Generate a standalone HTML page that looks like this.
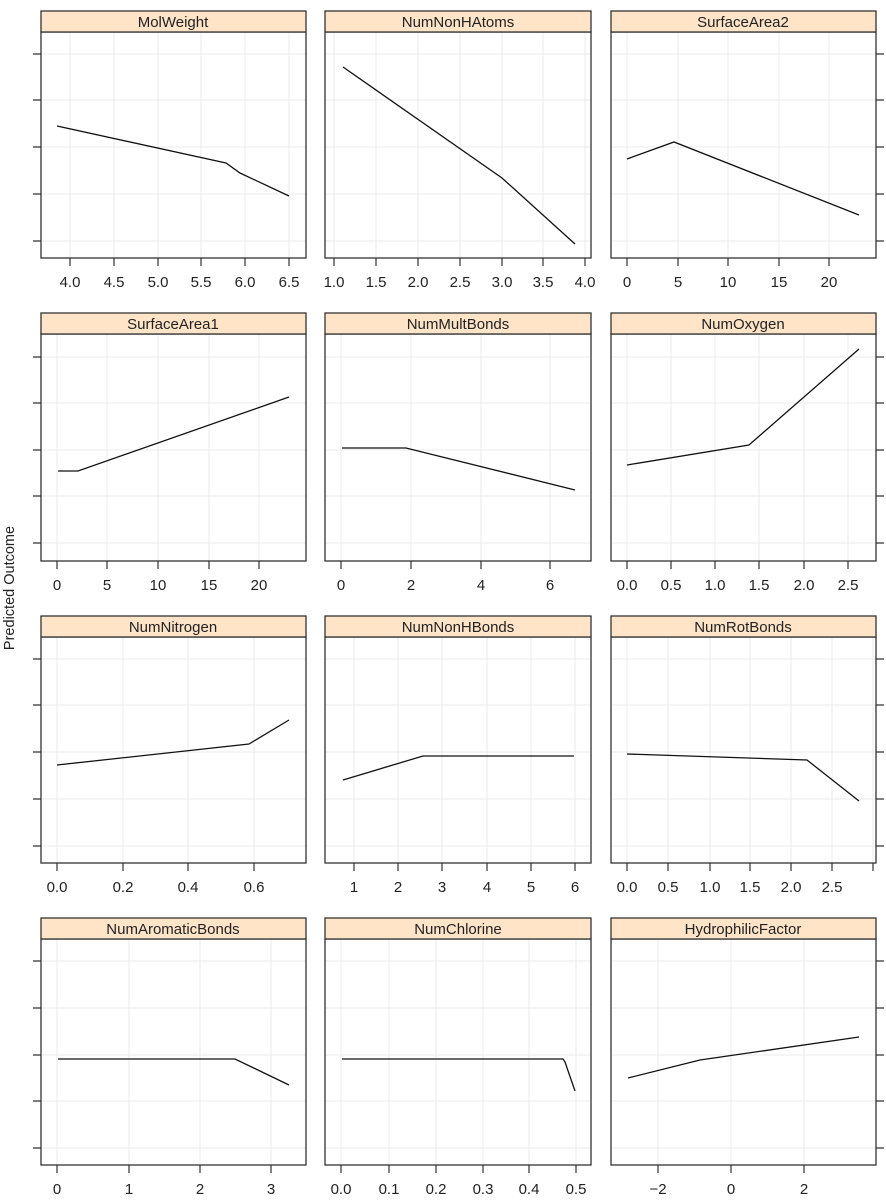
<!DOCTYPE html>
<html><head><meta charset="utf-8"><style>
html,body{margin:0;padding:0;background:#fff}
svg{display:block;font-family:"Liberation Sans",sans-serif}
.g{stroke:#ebebeb;stroke-width:1}
.f{fill:none;stroke:#333;stroke-width:1.3}
.s{fill:#ffe4c8;stroke:#333;stroke-width:1.3}
.t{stroke:#333;stroke-width:1.2}
.l{fill:none;stroke:#111;stroke-width:1.3}
text{font-size:15px;fill:#222}
.h{text-anchor:middle}
</style></head><body>
<svg width="886" height="1204" viewBox="0 0 886 1204" xmlns="http://www.w3.org/2000/svg">
<text x="14" y="588" class="h" transform="rotate(-90 14 588)" style="font-size:14.5px">Predicted Outcome</text>

<!-- ROW 1 -->
<g>
<path class="g" d="M41 54H306M41 100H306M41 147H306M41 194H306M41 241H306M70 32V258M114 32V258M158 32V258M201 32V258M245 32V258M289 32V258"/>
<rect class="f" x="41" y="32" width="265" height="226"/>
<rect class="s" x="41" y="11" width="265" height="21"/>
<text x="173" y="27" class="h">MolWeight</text>
<path class="t" d="M33 54H41M33 100H41M33 147H41M33 194H41M33 241H41M70 258V266M114 258V266M158 258V266M201 258V266M245 258V266M289 258V266"/>
<text y="287" class="h"><tspan x="70">4.0</tspan><tspan x="114">4.5</tspan><tspan x="158">5.0</tspan><tspan x="201">5.5</tspan><tspan x="245">6.0</tspan><tspan x="289">6.5</tspan></text>
<polyline class="l" points="57,126 226,163 240,173 289,196"/>

<path class="g" d="M325 54H591M325 100H591M325 147H591M325 194H591M325 241H591M334 32V258M376 32V258M418 32V258M460 32V258M502 32V258M543 32V258M585 32V258"/>
<rect class="f" x="325" y="32" width="266" height="226"/>
<rect class="s" x="325" y="11" width="266" height="21"/>
<text x="458" y="27" class="h">NumNonHAtoms</text>
<path class="t" d="M334 258V266M376 258V266M418 258V266M460 258V266M502 258V266M543 258V266M585 258V266"/>
<text y="287" class="h"><tspan x="334">1.0</tspan><tspan x="376">1.5</tspan><tspan x="418">2.0</tspan><tspan x="460">2.5</tspan><tspan x="502">3.0</tspan><tspan x="543">3.5</tspan><tspan x="585">4.0</tspan></text>
<polyline class="l" points="343,67 502,178 575,244"/>

<path class="g" d="M611 54H876M611 100H876M611 147H876M611 194H876M611 241H876M627 32V258M678 32V258M728 32V258M779 32V258M829 32V258"/>
<rect class="f" x="611" y="32" width="265" height="226"/>
<rect class="s" x="611" y="11" width="265" height="21"/>
<text x="743" y="27" class="h">SurfaceArea2</text>
<path class="t" d="M876 54H884M876 100H884M876 147H884M876 194H884M876 241H884M627 258V266M678 258V266M728 258V266M779 258V266M829 258V266"/>
<text y="287" class="h"><tspan x="627">0</tspan><tspan x="678">5</tspan><tspan x="728">10</tspan><tspan x="779">15</tspan><tspan x="829">20</tspan></text>
<polyline class="l" points="627,159 674,142 859,215"/>
</g>

<!-- ROW 2 -->
<g>
<path class="g" d="M41 357H306M41 403H306M41 450H306M41 496H306M41 543H306M57 334V561M107 334V561M158 334V561M209 334V561M259 334V561"/>
<rect class="f" x="41" y="334" width="265" height="227"/>
<rect class="s" x="41" y="313" width="265" height="21"/>
<text x="173" y="329" class="h">SurfaceArea1</text>
<path class="t" d="M33 357H41M33 403H41M33 450H41M33 496H41M33 543H41M57 561V569M107 561V569M158 561V569M209 561V569M259 561V569"/>
<text y="590" class="h"><tspan x="57">0</tspan><tspan x="107">5</tspan><tspan x="158">10</tspan><tspan x="209">15</tspan><tspan x="259">20</tspan></text>
<polyline class="l" points="58,471 78,471 289,397"/>

<path class="g" d="M325 357H591M325 403H591M325 450H591M325 496H591M325 543H591M341 334V561M411 334V561M481 334V561M550 334V561"/>
<rect class="f" x="325" y="334" width="266" height="227"/>
<rect class="s" x="325" y="313" width="266" height="21"/>
<text x="458" y="329" class="h">NumMultBonds</text>
<path class="t" d="M341 561V569M411 561V569M481 561V569M550 561V569"/>
<text y="590" class="h"><tspan x="341">0</tspan><tspan x="411">2</tspan><tspan x="481">4</tspan><tspan x="550">6</tspan></text>
<polyline class="l" points="342,448 406,448 575,490"/>

<path class="g" d="M611 357H876M611 403H876M611 450H876M611 496H876M611 543H876M627 334V561M671 334V561M715 334V561M759 334V561M804 334V561M848 334V561"/>
<rect class="f" x="611" y="334" width="265" height="227"/>
<rect class="s" x="611" y="313" width="265" height="21"/>
<text x="743" y="329" class="h">NumOxygen</text>
<path class="t" d="M876 357H884M876 403H884M876 450H884M876 496H884M876 543H884M627 561V569M671 561V569M715 561V569M759 561V569M804 561V569M848 561V569"/>
<text y="590" class="h"><tspan x="627">0.0</tspan><tspan x="671">0.5</tspan><tspan x="715">1.0</tspan><tspan x="759">1.5</tspan><tspan x="804">2.0</tspan><tspan x="848">2.5</tspan></text>
<polyline class="l" points="627,465 749,445 859,349"/>
</g>

<!-- ROW 3 -->
<g>
<path class="g" d="M41 659H306M41 705H306M41 752H306M41 799H306M41 846H306M57 637V863M123 637V863M188 637V863M254 637V863"/>
<rect class="f" x="41" y="637" width="265" height="226"/>
<rect class="s" x="41" y="616" width="265" height="21"/>
<text x="173" y="632" class="h">NumNitrogen</text>
<path class="t" d="M33 659H41M33 705H41M33 752H41M33 799H41M33 846H41M57 863V871M123 863V871M188 863V871M254 863V871"/>
<text y="892" class="h"><tspan x="57">0.0</tspan><tspan x="123">0.2</tspan><tspan x="188">0.4</tspan><tspan x="254">0.6</tspan></text>
<polyline class="l" points="57,765 249,744 289,720"/>

<path class="g" d="M325 659H591M325 705H591M325 752H591M325 799H591M325 846H591M354 637V863M398 637V863M442 637V863M487 637V863M531 637V863M575 637V863"/>
<rect class="f" x="325" y="637" width="266" height="226"/>
<rect class="s" x="325" y="616" width="266" height="21"/>
<text x="458" y="632" class="h">NumNonHBonds</text>
<path class="t" d="M354 863V871M398 863V871M442 863V871M487 863V871M531 863V871M575 863V871"/>
<text y="892" class="h"><tspan x="354">1</tspan><tspan x="398">2</tspan><tspan x="442">3</tspan><tspan x="487">4</tspan><tspan x="531">5</tspan><tspan x="575">6</tspan></text>
<polyline class="l" points="343,780 423,756 574,756"/>

<path class="g" d="M611 659H876M611 705H876M611 752H876M611 799H876M611 846H876M627 637V863M668 637V863M710 637V863M750 637V863M791 637V863M832 637V863M873 637V863"/>
<rect class="f" x="611" y="637" width="265" height="226"/>
<rect class="s" x="611" y="616" width="265" height="21"/>
<text x="743" y="632" class="h">NumRotBonds</text>
<path class="t" d="M876 659H884M876 705H884M876 752H884M876 799H884M876 846H884M627 863V871M668 863V871M710 863V871M750 863V871M791 863V871M832 863V871M873 863V871"/>
<text y="892" class="h"><tspan x="627">0.0</tspan><tspan x="668">0.5</tspan><tspan x="710">1.0</tspan><tspan x="750">1.5</tspan><tspan x="791">2.0</tspan><tspan x="832">2.5</tspan></text>
<polyline class="l" points="627,754 807,760 859,801"/>
</g>

<!-- ROW 4 -->
<g>
<path class="g" d="M41 961H306M41 1008H306M41 1055H306M41 1101H306M41 1148H306M57 939V1165M129 939V1165M200 939V1165M271 939V1165"/>
<rect class="f" x="41" y="939" width="265" height="226"/>
<rect class="s" x="41" y="918" width="265" height="21"/>
<text x="173" y="934" class="h">NumAromaticBonds</text>
<path class="t" d="M33 961H41M33 1008H41M33 1055H41M33 1101H41M33 1148H41M57 1165V1173M129 1165V1173M200 1165V1173M271 1165V1173"/>
<text y="1194" class="h"><tspan x="57">0</tspan><tspan x="129">1</tspan><tspan x="200">2</tspan><tspan x="271">3</tspan></text>
<polyline class="l" points="58,1059 235,1059 289,1085"/>

<path class="g" d="M325 961H591M325 1008H591M325 1055H591M325 1101H591M325 1148H591M341 939V1165M389 939V1165M436 939V1165M483 939V1165M529 939V1165M576 939V1165"/>
<rect class="f" x="325" y="939" width="266" height="226"/>
<rect class="s" x="325" y="918" width="266" height="21"/>
<text x="458" y="934" class="h">NumChlorine</text>
<path class="t" d="M341 1165V1173M389 1165V1173M436 1165V1173M483 1165V1173M529 1165V1173M576 1165V1173"/>
<text y="1194" class="h"><tspan x="341">0.0</tspan><tspan x="389">0.1</tspan><tspan x="436">0.2</tspan><tspan x="483">0.3</tspan><tspan x="529">0.4</tspan><tspan x="576">0.5</tspan></text>
<polyline class="l" points="342,1059 563,1059 565,1062 575,1091"/>

<path class="g" d="M611 961H876M611 1008H876M611 1055H876M611 1101H876M611 1148H876M658 939V1165M731 939V1165M804 939V1165"/>
<rect class="f" x="611" y="939" width="265" height="226"/>
<rect class="s" x="611" y="918" width="265" height="21"/>
<text x="743" y="934" class="h">HydrophilicFactor</text>
<path class="t" d="M876 961H884M876 1008H884M876 1055H884M876 1101H884M876 1148H884M658 1165V1173M731 1165V1173M804 1165V1173"/>
<text y="1194" class="h"><tspan x="658">−2</tspan><tspan x="731">0</tspan><tspan x="804">2</tspan></text>
<polyline class="l" points="628,1078 700,1060 859,1037"/>
</g>
</svg>
</body></html>
